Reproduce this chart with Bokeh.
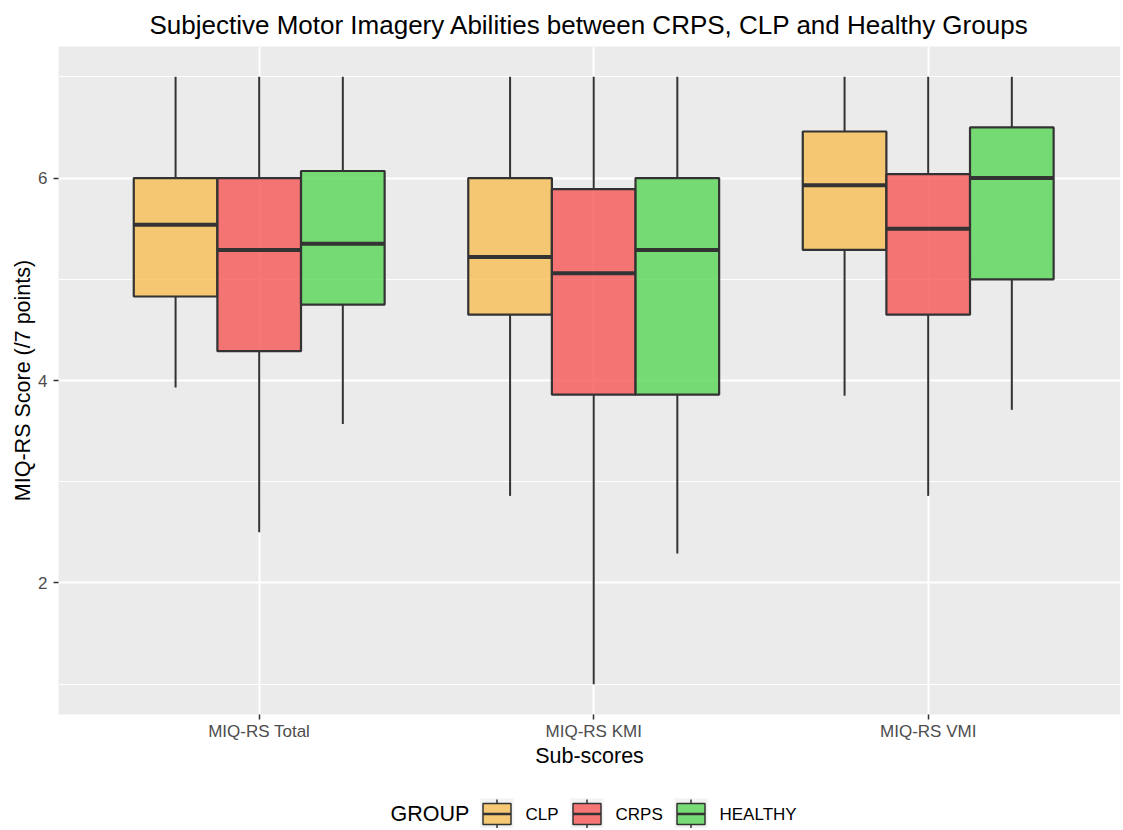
from bokeh.plotting import figure
from bokeh.layouts import column
from bokeh.models import Range1d, FixedTicker, Title
from bokeh.core.properties import value
from bokeh.embed import file_html
from bokeh.resources import INLINE

# ---------------- data ----------------
categories = ["MIQ-RS Total", "MIQ-RS KMI", "MIQ-RS VMI"]
groups = ["CLP", "CRPS", "HEALTHY"]

clp_lower = [3.93, 2.86, 3.85]
clp_q1 = [4.83, 4.65, 5.29]
clp_median = [5.54, 5.22, 5.93]
clp_q3 = [6.00, 6.00, 6.46]
clp_upper = [7.0, 7.0, 7.0]

crps_lower = [2.50, 1.00, 2.86]
crps_q1 = [4.29, 3.86, 4.65]
crps_median = [5.29, 5.06, 5.50]
crps_q3 = [6.00, 5.89, 6.04]
crps_upper = [7.0, 7.0, 7.0]

healthy_lower = [3.57, 2.29, 3.71]
healthy_q1 = [4.75, 3.86, 5.00]
healthy_median = [5.35, 5.29, 6.00]
healthy_q3 = [6.07, 6.00, 6.50]
healthy_upper = [7.0, 7.0, 7.0]

y_ticks = [2, 4, 6]
y_minor = [1, 3, 5, 7]

colors = ["#F7BE55", "#F65656", "#59D656"]
stats = [
    (clp_lower, clp_q1, clp_median, clp_q3, clp_upper),
    (crps_lower, crps_q1, crps_median, crps_q3, crps_upper),
    (healthy_lower, healthy_q1, healthy_median, healthy_q3, healthy_upper),
]

# ---------------- layout ----------------
FONT = "Liberation Sans"
W = 1120
MAIN_H = 784
LEG_H = 44
BORDER_LEFT, BORDER_TOP, BORDER_BOTTOM = 58, 46, 70
FRAME_W = W - BORDER_LEFT
PX_X = 334.5
X0 = 0.4
X1 = X0 + FRAME_W / PX_X
Y0, Y1 = 0.7, 7.3

p = figure(
    width=W, height=MAIN_H, output_backend="svg", toolbar_location=None,
    x_range=Range1d(X0, X1), y_range=Range1d(Y0, Y1),
    min_border_left=BORDER_LEFT, min_border_right=0,
    min_border_top=BORDER_TOP, min_border_bottom=BORDER_BOTTOM,
)
p.background_fill_color = "#EBEBEB"
p.border_fill_color = "white"
p.outline_line_color = None

p.title = Title(text="Subjective Motor Imagery Abilities between CRPS, CLP and Healthy Groups",
                align="center", text_font=FONT, text_font_size="26px",
                text_font_style="normal", text_color="black", standoff=14)

# grids
p.xgrid.ticker = FixedTicker(ticks=[1, 2, 3])
p.ygrid.ticker = FixedTicker(ticks=y_ticks, minor_ticks=y_minor)
p.xgrid.grid_line_color = "white"
p.xgrid.grid_line_width = 2
p.ygrid.grid_line_color = "white"
p.ygrid.grid_line_width = 2
p.ygrid.minor_grid_line_color = "white"
p.ygrid.minor_grid_line_width = 1

# axes
p.xaxis.ticker = FixedTicker(ticks=[1, 2, 3])
p.xaxis.major_label_overrides = {i + 1: c for i, c in enumerate(categories)}
p.yaxis.ticker = FixedTicker(ticks=y_ticks, minor_ticks=y_minor)
for ax in (p.xaxis[0], p.yaxis[0]):
    ax.axis_line_color = None
    ax.major_tick_line_color = "#333333"
    ax.major_tick_line_width = 1.5
    ax.major_tick_out = 5
    ax.major_tick_in = 0
    ax.minor_tick_line_color = None
    ax.major_label_text_font = FONT
    ax.major_label_text_font_size = "17px"
    ax.major_label_text_color = "#4D4D4D"
    ax.axis_label_text_font = FONT
    ax.axis_label_text_font_size = "21.5px"
    ax.axis_label_text_font_style = "normal"
    ax.axis_label_text_color = "black"
p.xaxis.axis_label = "Sub-scores"
p.yaxis.axis_label = "MIQ-RS Score (/7 points)"
p.xaxis.major_label_standoff = 2
p.xaxis.axis_label_standoff = 0
p.yaxis.major_label_standoff = 6
p.yaxis.axis_label_standoff = 0

# boxes
offsets = [-0.25, 0.0, 0.25]
bw = 0.25
for g, col, off, (lo, q1, med, q3, up) in zip(groups, colors, offsets, stats):
    xs = [i + 1 + off for i in range(len(categories))]
    p.segment(x0=xs, y0=q3, x1=xs, y1=up, line_color="#333333", line_width=2)
    p.segment(x0=xs, y0=q1, x1=xs, y1=lo, line_color="#333333", line_width=2)
    p.vbar(x=xs, width=bw, bottom=q1, top=q3, fill_color=col,
           fill_alpha=0.8, line_color="#333333", line_width=2.2)
    p.segment(x0=[x - bw / 2 for x in xs], y0=med,
              x1=[x + bw / 2 for x in xs], y1=med,
              line_color="#333333", line_width=4)

# ---------------- legend strip (page-pixel coordinates) ----------------
lg = figure(width=W, height=LEG_H, output_backend="svg", toolbar_location=None,
            x_range=Range1d(BORDER_LEFT, W), y_range=Range1d(0, LEG_H),
            x_axis_type=None, y_axis_type=None,
            min_border_left=BORDER_LEFT, min_border_right=0,
            min_border_top=0, min_border_bottom=0)
lg.grid.visible = False
lg.outline_line_color = None
lg.background_fill_color = "white"
lg.border_fill_color = "white"

CY = 14.5                      # key centre, from strip bottom
key_x = [496.5, 586.5, 690.5]  # key centres
lab_x = [525, 615, 719]        # label starts
KEY_W, KEY_H = 33, 31
BOX_W, BOX_H = 28, 21

lg.text(x=[390], y=[CY], text=["GROUP"], text_font=value(FONT),
        text_font_size="21.5px", text_color="black",
        text_align="left", text_baseline="middle")
lg.rect(x=key_x, y=[CY] * 3, width=KEY_W, height=KEY_H,
        fill_color="#F2F2F2", line_color=None)
lg.segment(x0=key_x, y0=[CY + BOX_H / 2] * 3, x1=key_x, y1=[CY + KEY_H / 2 - 1] * 3,
           line_color="#333333", line_width=1.5)
lg.segment(x0=key_x, y0=[CY - BOX_H / 2] * 3, x1=key_x, y1=[CY - KEY_H / 2 + 1] * 3,
           line_color="#333333", line_width=1.5)
lg.rect(x=key_x, y=[CY] * 3, width=BOX_W, height=BOX_H, fill_color=colors,
        fill_alpha=0.8, line_color="#333333", line_width=1.5)
lg.segment(x0=[k - BOX_W / 2 for k in key_x], y0=[CY] * 3,
           x1=[k + BOX_W / 2 for k in key_x], y1=[CY] * 3,
           line_color="#333333", line_width=2.5)
lg.text(x=lab_x, y=[CY] * 3, text=groups, text_font=value(FONT),
        text_font_size="17px", text_color="black",
        text_align="left", text_baseline="middle")

layout = column(p, lg, spacing=0)
open("out.html", "w").write(file_html(layout, INLINE))
